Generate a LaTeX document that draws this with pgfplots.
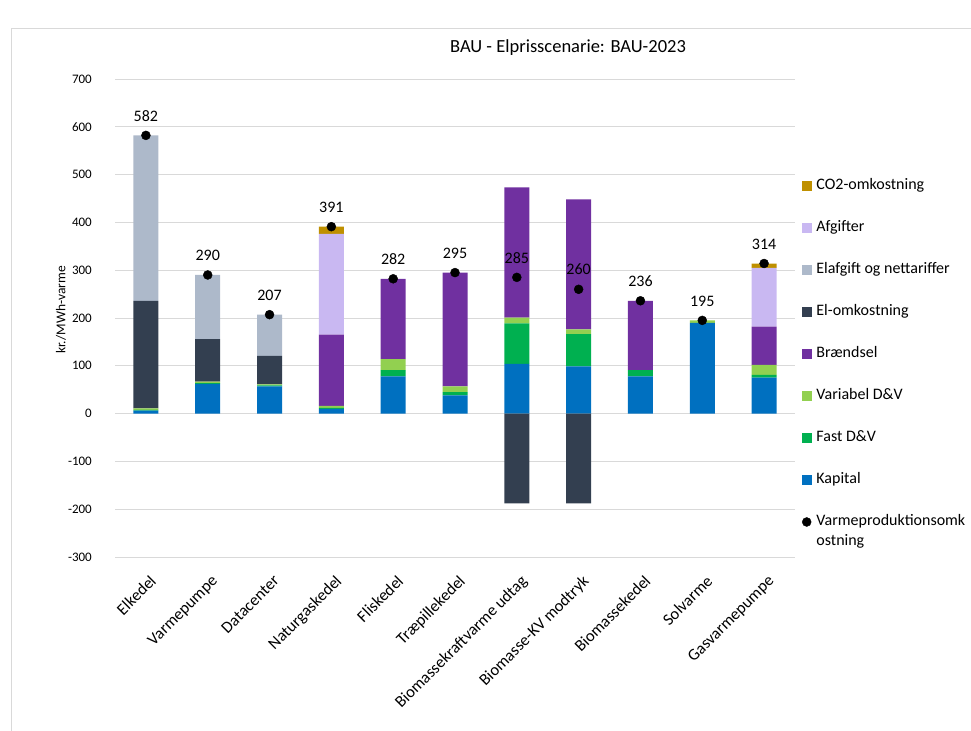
\documentclass[border=0pt]{standalone}
\usepackage{fontspec}
\setmainfont{Carlito}
\usepackage{pgfplots}
\usepackage{pgfplotstable}
\pgfplotsset{compat=1.18}
\definecolor{co2c}{RGB}{191,144,0}
\definecolor{afgc}{RGB}{201,184,242}
\definecolor{elafc}{RGB}{173,185,202}
\definecolor{elc}{RGB}{51,63,80}
\definecolor{brc}{RGB}{112,48,160}
\definecolor{varc}{RGB}{146,208,80}
\definecolor{fastc}{RGB}{0,176,80}
\definecolor{kapc}{RGB}{0,112,192}
\definecolor{gridc}{RGB}{217,217,217}
\pgfplotstableread{
x kap fast var br el elaf afg co2 tot
0 6 2 3 0 225 346 0 0 582
1 62 2 3 0 89 134 0 0 290
2 57 2 2 0 60 86 0 0 207
3 10 2 4 149 0 0 211 15 391
4 78 13 23 168 0 0 0 0 282
5 38 7 12 238 0 0 0 0 295
6 104 85 12 272 0 0 0 0 285
7 99 67 10 272 0 0 0 0 260
8 78 13 0 145 0 0 0 0 236
9 190 0 5 0 0 0 0 0 195
10 75 6 21 80 0 0 123 9 314
}\datatable
\pgfplotstableread{
x elneg
6 -188
7 -188
}\negtable
\newcommand\sqimg[1]{\addlegendimage{legend image code/.code={\fill[#1] (0bp,-4.5bp) rectangle (9bp,4.5bp);}}}
\begin{document}
\begin{tikzpicture}
\path[use as bounding box] (0,0) rectangle (971bp,731bp);
\draw[gridc, line width=0.75bp] (11bp,0) -- (11bp,703bp) -- (971bp,703bp);
\node[font=\fontsize{18.5bp}{22bp}\selectfont] at (568bp,683bp) {BAU - Elprisscenarie: BAU-2023};
\begin{axis}[
  at={(115bp,174bp)}, anchor=south west, scale only axis,
  width=680bp, height=478bp,
  xmin=-0.5, xmax=10.5, ymin=-300, ymax=700,
  ybar stacked, bar width=25bp,
  xtick={0,...,10},
  xticklabels={Elkedel,Varmepumpe,Datacenter,Naturgaskedel,Fliskedel,Træpillekedel,Biomassekraftvarme udtag,Biomasse-KV modtryk,Biomassekedel,Solvarme,Gasvarmepumpe},
  ytick={-300,-200,...,700},
  ymajorgrids, grid style={gridc, line width=0.75bp},
  axis line style={draw=none}, major tick length=0pt, tick style={draw=none},
  /pgf/number format/assume math mode=true,
  yticklabel style={font=\fontsize{13bp}{15bp}\selectfont, inner sep=0pt, anchor=east, xshift=-23bp},
  xticklabel style={font=\fontsize{16.5bp}{20bp}\selectfont, inner sep=0pt, xshift=3bp, yshift=-17bp, rotate=45, anchor=north east},
  ylabel={kr./MWh-varme},
  every axis y label/.style={at={(axis description cs:-0.0794,0.517)}, rotate=90, anchor=center, font=\fontsize{13.5bp}{16bp}\selectfont},
]
\addplot[fill=kapc, draw=none] table[x=x,y=kap]{\datatable};
\addplot[fill=fastc, draw=none] table[x=x,y=fast]{\datatable};
\addplot[fill=varc, draw=none] table[x=x,y=var]{\datatable};
\addplot[fill=brc, draw=none] table[x=x,y=br]{\datatable};
\addplot[fill=elc, draw=none] table[x=x,y=el]{\datatable};
\addplot[fill=elafc, draw=none] table[x=x,y=elaf]{\datatable};
\addplot[fill=afgc, draw=none] table[x=x,y=afg]{\datatable};
\addplot[fill=co2c, draw=none] table[x=x,y=co2]{\datatable};
\end{axis}
\begin{axis}[
  at={(115bp,174bp)}, anchor=south west, scale only axis,
  width=680bp, height=478bp,
  xmin=-0.5, xmax=10.5, ymin=-300, ymax=700,
  xtick=\empty, ytick=\empty,
  axis line style={draw=none}, major tick length=0pt,
  /pgf/number format/assume math mode=true,
  legend cell align=left,
  legend style={at={(1.0103,0.7908)}, anchor=north west, draw=none, fill=none,
    inner sep=0pt, outer sep=0pt, row sep=28bp, column sep=5bp,
    font=\fontsize{16bp}{20bp}\selectfont,
    nodes={inner sep=0pt, text height=11bp, text depth=3bp}},
]
\addplot[ybar, bar width=25bp, bar shift=0pt, fill=elc, draw=none, forget plot] table[x=x,y=elneg]{\negtable};
\addplot[only marks, mark=*, mark size=4.5bp, black, forget plot,
  nodes near coords,
  every node near coord/.append style={font=\fontsize{16bp}{19bp}\selectfont, inner sep=0pt, anchor=south, yshift=14bp, text=black}]
  table[x=x,y=tot]{\datatable};
\sqimg{co2c}\addlegendentry{CO2-omkostning}
\sqimg{afgc}\addlegendentry{Afgifter}
\sqimg{elafc}\addlegendentry{Elafgift og nettariffer}
\sqimg{elc}\addlegendentry{El-omkostning}
\sqimg{brc}\addlegendentry{Brændsel}
\sqimg{varc}\addlegendentry{Variabel D\&V}
\sqimg{fastc}\addlegendentry{Fast D\&V}
\sqimg{kapc}\addlegendentry{Kapital}
\addlegendimage{legend image code/.code={\fill[black] (4.5bp,0bp) circle (4.5bp);}}
\addlegendentry{\begin{tabular}[t]{@{}l@{}}Varmeproduktionsomk\\ostning\end{tabular}}
\end{axis}
\end{tikzpicture}
\end{document}
